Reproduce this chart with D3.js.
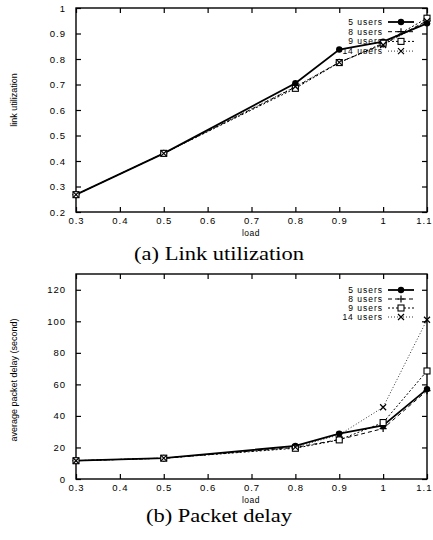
<!DOCTYPE html>
<html>
<head>
<meta charset="utf-8">
<script src="https://cdn.jsdelivr.net/npm/d3@7"></script>
<style>
  body { margin: 0; background: #fff; }
  svg text { font-family: "Liberation Sans", Arial, sans-serif; fill: #000; }
  .caption { font-family: "Liberation Serif", "Times New Roman", serif; font-size: 18px; }
</style>
</head>
<body>
<svg width="433" height="540"></svg>
<script>
// data
var loads = [0.3, 0.5, 0.8, 0.9, 1.0, 1.1];
var seriesNames = ['5 users', '8 users', '9 users', '14 users'];

var util5 = [0.268, 0.43, 0.705, 0.837, 0.868, 0.94];
var util8 = [0.268, 0.43, 0.69, 0.787, 0.858, 0.95];
var util9 = [0.268, 0.43, 0.685, 0.786, 0.862, 0.96];
var util14 = [0.268, 0.43, 0.692, 0.787, 0.855, 0.948];

var delay5 = [11.6, 13.2, 21, 28.8, 34, 57];
var delay8 = [11.6, 13.2, 20, 25, 32, 56];
var delay9 = [11.6, 13.2, 19.5, 24.8, 35.8, 68.5];
var delay14 = [11.6, 13.2, 20.2, 28, 45.5, 101];

var xTicks = [0.3, 0.4, 0.5, 0.6, 0.7, 0.8, 0.9, 1, 1.1];
var utilTicks = [0.2, 0.3, 0.4, 0.5, 0.6, 0.7, 0.8, 0.9, 1];
var delayTicks = [0, 20, 40, 60, 80, 100, 120];

// styles per series
var styles = [
    { width: 1.8, dash: null, marker: 'dot' },
    { width: 1, dash: '4,3', marker: 'plus' },
    { width: 1, dash: '2,2', marker: 'square' },
    { width: 0.8, dash: '1,2', marker: 'cross' }
];

var svg = d3.select('svg');

function drawMarker(g, type, x, y) {
    if (type === 'dot') {
        g.append('circle').attr('cx', x).attr('cy', y).attr('r', 3.2).style('fill', '#000');
    } else if (type === 'plus') {
        g.append('path').attr('d', 'M' + (x - 3.5) + ',' + y + 'h7M' + x + ',' + (y - 3.5) + 'v7')
            .style('stroke', '#000').style('stroke-width', 1.2);
    } else if (type === 'square') {
        g.append('rect').attr('x', x - 3).attr('y', y - 3).attr('width', 6).attr('height', 6)
            .style('fill', '#fff').style('stroke', '#000').style('stroke-width', 1.1);
    } else {
        g.append('path').attr('d', 'M' + (x - 3) + ',' + (y - 3) + 'l6,6M' + (x - 3) + ',' + (y + 3) + 'l6,-6')
            .style('stroke', '#000').style('stroke-width', 1.2);
    }
}

function drawPanel(opts) {
    var x = d3.scaleLinear().domain([0.3, 1.1]).range([76, 427]);
    var y = d3.scaleLinear().domain(opts.yDomain).range(opts.yRange);
    var g = svg.append('g');
    var top = opts.yRange[1], bottom = opts.yRange[0];

    // mirrored inward ticks, gnuplot style
    var xAxis = g.append('g').attr('transform', 'translate(0,' + bottom + ')')
        .call(d3.axisBottom(x).tickValues(xTicks).tickFormat(d3.format('~g')).tickSizeInner(-5).tickSizeOuter(0).tickPadding(5))
        .call(a => a.select('.domain').remove());
    // last label would run past the page edge
    xAxis.selectAll('.tick text').filter(d => d === 1.1)
        .attr('text-anchor', 'end').attr('x', 5);
    g.append('g').attr('transform', 'translate(0,' + top + ')')
        .call(d3.axisTop(x).tickValues(xTicks).tickFormat('').tickSizeInner(-5).tickSizeOuter(0))
        .call(a => a.select('.domain').remove());
    g.append('g').attr('transform', 'translate(76,0)')
        .call(d3.axisLeft(y).tickValues(opts.yTicks).tickFormat(d3.format('~g')).tickSizeInner(-5).tickSizeOuter(0).tickPadding(10))
        .call(a => a.select('.domain').remove());
    g.append('g').attr('transform', 'translate(427,0)')
        .call(d3.axisRight(y).tickValues(opts.yTicks).tickFormat('').tickSizeInner(-5).tickSizeOuter(0))
        .call(a => a.select('.domain').remove());
    g.selectAll('.tick text')
        .style('font-size', '9.5px')
        .style('letter-spacing', '1px')
        .style('font-family', '"Liberation Sans", Arial, sans-serif');
    g.selectAll('.tick line').style('stroke-width', 1.2);

    g.append('rect')
        .attr('x', 76).attr('y', top)
        .attr('width', 351).attr('height', bottom - top)
        .style('fill', 'none').style('stroke', '#000').style('stroke-width', 1.4);

    var line = d3.line().x((d, i) => x(loads[i])).y(d => y(d));

    opts.series.forEach(function(vals, k) {
        var st = styles[k];
        g.append('path').datum(vals)
            .attr('d', line)
            .style('fill', 'none').style('stroke', '#000')
            .style('stroke-width', st.width)
            .style('stroke-dasharray', st.dash);
        vals.forEach((v, i) => drawMarker(g, st.marker, x(loads[i]), y(v)));
    });

    // legend
    seriesNames.forEach(function(name, k) {
        var ly = opts.legendY + k * opts.legendStep;
        var st = styles[k];
        g.append('text').attr('x', 383).attr('y', ly + 3)
            .attr('text-anchor', 'end')
            .style('font-size', '8.5px').style('letter-spacing', '1px')
            .text(name);
        g.append('line').attr('x1', 388).attr('x2', 414).attr('y1', ly).attr('y2', ly)
            .style('stroke', '#000').style('stroke-width', st.width).style('stroke-dasharray', st.dash);
        drawMarker(g, st.marker, 401, ly);
    });

    g.append('text').attr('x', 251).attr('y', bottom + 24)
        .attr('text-anchor', 'middle').style('font-size', '8.5px').style('letter-spacing', '0.5px').text('load');
    g.append('text')
        .attr('transform', 'translate(17,' + opts.yLabelY + ') rotate(-90)')
        .attr('text-anchor', 'middle').style('font-size', '9px').text(opts.yLabel);
    g.append('text').attr('class', 'caption')
        .attr('transform', 'translate(219,' + (bottom + opts.captionDy) + ') scale(1.25,1)')
        .attr('text-anchor', 'middle').text(opts.caption);
}

drawPanel({
    yDomain: [0.2, 1], yRange: [212, 8], yTicks: utilTicks,
    series: [util5, util8, util9, util14],
    legendY: 22, legendStep: 9.7,
    yLabel: 'link utilization', yLabelY: 100,
    caption: '(a) Link utilization', captionDy: 48
});

drawPanel({
    yDomain: [0, 130], yRange: [479, 274], yTicks: delayTicks,
    series: [delay5, delay8, delay9, delay14],
    legendY: 290, legendStep: 9,
    yLabel: 'average packet delay (second)', yLabelY: 380,
    caption: '(b) Packet delay', captionDy: 43
});
</script>
</body>
</html>
